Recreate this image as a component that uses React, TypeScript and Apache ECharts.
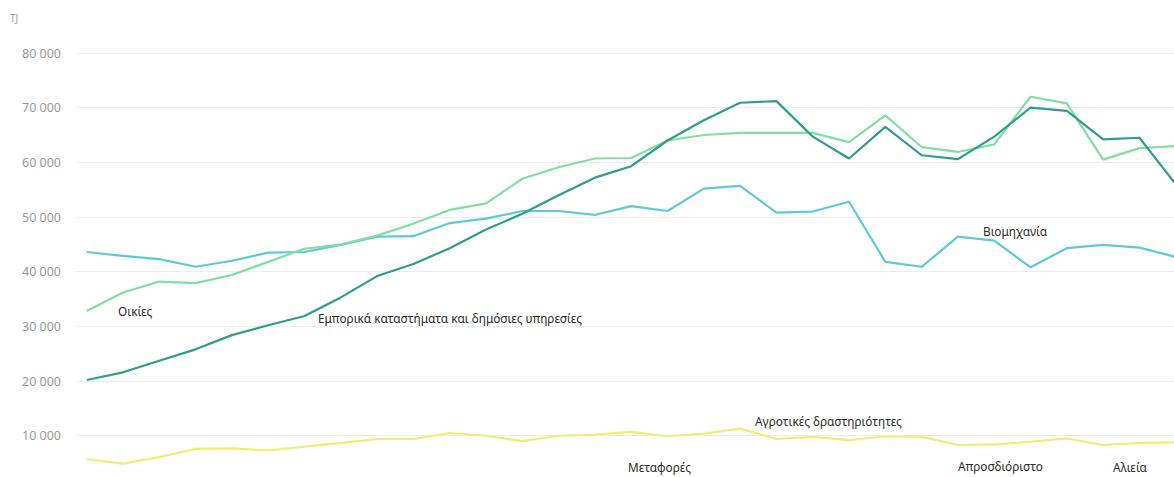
import React, { useEffect, useRef } from "react";
import * as echarts from "echarts";

const years = [
  1990, 1991, 1992, 1993, 1994, 1995, 1996, 1997, 1998, 1999, 2000, 2001, 2002, 2003, 2004, 2005,
  2006, 2007, 2008, 2009, 2010, 2011, 2012, 2013, 2014, 2015, 2016, 2017, 2018, 2019, 2020,
];

const commercial = [
  20200, 21600, 23700, 25800, 28400, 30200, 31900, 35300, 39200, 41400, 44300, 47700, 50600, 54000,
  57200, 59300, 64000, 67700, 70900, 71200, 64700, 60700, 66500, 61300, 60600, 64700, 70000, 69400,
  64200, 64500, 56000,
];

const households = [
  32800, 36200, 38200, 37900, 39400, 41800, 44200, 45000, 46600, 48800, 51300, 52500, 57000, 59100,
  60700, 60800, 64000, 65000, 65400, 65400, 65400, 63700, 68600, 62800, 61900, 63300, 72000, 70800,
  60500, 62600, 63000,
];

const industry = [
  43600, 42900, 42300, 40900, 42000, 43500, 43600, 44900, 46400, 46500, 48900, 49700, 51100, 51100,
  50400, 52000, 51100, 55200, 55700, 50800, 51000, 52800, 41800, 40900, 46400, 45700, 40800, 44300,
  44900, 44400, 42700,
];

const agriculture = [
  5700, 4900, 6100, 7600, 7700, 7300, 8000, 8700, 9400, 9400, 10500, 10000, 9000, 10000, 10200,
  10700, 9900, 10400, 11300, 9400, 9800, 9200, 9900, 9800, 8300, 8400, 8900, 9500, 8300, 8700,
  8800,
];

const yTicks = [0, 10000, 20000, 30000, 40000, 50000, 60000, 70000, 80000];

const seriesNames = [
  "Οικίες",
  "Εμπορικά καταστήματα και δημόσιες υπηρεσίες",
  "Βιομηχανία",
  "Αγροτικές δραστηριότητες",
];
const extraLabels = ["Μεταφορές", "Απροσδιόριστο", "Αλιεία"];

const colors = {
  households: "#82df9f",
  commercial: "#2f9d8d",
  industry: "#5ec9d8",
  agriculture: "#f1ec72",
};

const font = "'Noto Sans', 'DejaVu Sans', sans-serif";

function fmt(v: number) {
  return String(v).replace(/\B(?=(\d{3})+(?!\d))/g, " ");
}

export default function App() {
  const ref = useRef<HTMLDivElement>(null);

  useEffect(() => {
    if (!ref.current) return;
    const chart = echarts.init(ref.current, undefined, { renderer: "svg" });
    const mk = (name: string, vals: number[], color: string) => ({
      name,
      type: "line",
      data: years.map((y, i) => [y, vals[i]]),
      showSymbol: false,
      symbol: "none",
      lineStyle: { color, width: 2.2 },
      itemStyle: { color },
      z: 3,
    });
    const labelStyle = (text: string, x: number, y: number) => ({
      type: "text",
      x,
      y,
      style: {
        text,
        fill: "#2a2a2a",
        font: `11.8px ${font}`,
        verticalAlign: "middle",
        align: "left",
      },
      z: 10,
    });
    chart.setOption({
      animation: false,
      backgroundColor: "#fff",
      grid: { left: 76, top: 53, right: 26.1, bottom: 49.6, containLabel: false },
      xAxis: {
        type: "value",
        min: 1989.705,
        max: 2020.5,
        axisLine: { show: false },
        axisTick: { show: false },
        axisLabel: { show: false },
        splitLine: { show: false },
      },
      yAxis: {
        type: "value",
        min: yTicks[0],
        max: yTicks[yTicks.length - 1],
        interval: 10000,
        axisLine: { show: false },
        axisTick: { show: false },
        axisLabel: {
          color: "#9a9a9a",
          fontSize: 12.5,
          fontFamily: font,
          margin: 15,
          formatter: (v: number) => (v === 0 ? "" : fmt(v)),
        },
        splitLine: { lineStyle: { color: "#ececec", width: 1 } },
      },
      series: [
        mk(seriesNames[2], industry, colors.industry),
        mk(seriesNames[0], households, colors.households),
        mk(seriesNames[1], commercial, colors.commercial),
        mk(seriesNames[3], agriculture, colors.agriculture),
      ],
      graphic: [
        {
          type: "text",
          x: 10,
          y: 18,
          style: { text: "TJ", fill: "#9a9a9a", font: `10px ${font}`, verticalAlign: "middle" },
        },
        labelStyle(seriesNames[0], 118, 311),
        labelStyle(seriesNames[1], 318, 318),
        labelStyle(seriesNames[2], 983, 231),
        labelStyle(seriesNames[3], 755, 421),
        labelStyle(extraLabels[0], 628, 467),
        labelStyle(extraLabels[1], 958, 466),
        labelStyle(extraLabels[2], 1113, 467),
      ],
    });
    return () => chart.dispose();
  }, []);

  return (
    <div
      style={{
        position: "absolute",
        left: 0,
        top: 0,
        width: 1174,
        height: 477,
        overflow: "hidden",
        background: "#fff",
      }}
    >
      <div ref={ref} style={{ width: 1220, height: 540 }} />
    </div>
  );
}
